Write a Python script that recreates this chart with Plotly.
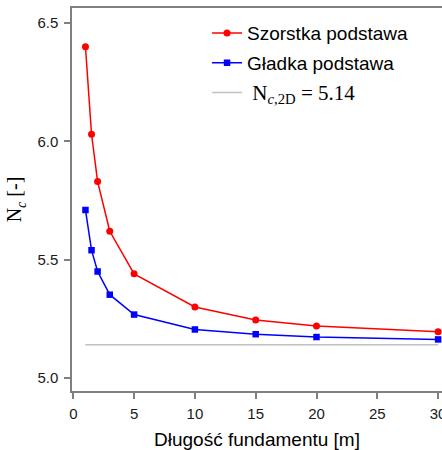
import plotly.graph_objects as go

# Foundation length [m] and bearing capacity factor N_c
length_m = [1, 1.5, 2, 3, 5, 10, 15, 20, 30]
nc_rough = [6.40, 6.03, 5.83, 5.62, 5.44, 5.30, 5.245, 5.22, 5.195]
nc_smooth = [5.71, 5.54, 5.45, 5.352, 5.268, 5.205, 5.185, 5.173, 5.163]
nc_2d = 5.14
ref_x = [1, 30]

fig = go.Figure()
fig.add_trace(go.Scatter(
    x=length_m, y=nc_rough, mode="lines+markers", name="Szorstka podstawa",
    legendgroup="rough",
    line=dict(color="#ff0000", width=1.5),
    marker=dict(symbol="circle", size=7, color="#ff0000"),
))
fig.add_trace(go.Scatter(
    x=length_m, y=nc_smooth, mode="lines+markers", name="Gładka podstawa",
    legendgroup="smooth",
    line=dict(color="#0000ff", width=1.5),
    marker=dict(symbol="square", size=6.5, color="#0000ff"),
))
fig.add_trace(go.Scatter(
    x=ref_x, y=[nc_2d, nc_2d], mode="lines", legendgroup="plane",
    name='<span style="font-family:\'Liberation Serif\', serif;font-size:21px"> N<sub><i>c</i>,2D</sub> = 5.14</span>',
    line=dict(color="#c0c0c0", width=1.5),
))

axis_common = dict(
    showgrid=False, zeroline=False, showline=True, linecolor="#808080", linewidth=1.5,
    ticks="outside", ticklen=6, tickcolor="#808080", tickwidth=1.5,
    ticklabeloverflow="allow", automargin=False,
    tickfont=dict(family="Liberation Sans, Arial", size=15, color="#1a1a1a"),
)

fig.update_layout(
    width=442, height=450,
    margin=dict(l=72, r=0, t=8, b=59, autoexpand=False),
    paper_bgcolor="white", plot_bgcolor="white",
    font=dict(family="Liberation Sans, Arial", size=19, color="#000000"),
    xaxis=dict(
        range=[-0.107, 30.32], tickvals=[0, 5, 10, 15, 20, 25, 30], mirror=True,
        ticklabelstandoff=2,
        title=dict(text="Długość fundamentu [m]", standoff=12,
                   font=dict(family="Liberation Sans, Arial", size=19)),
        **axis_common,
    ),
    yaxis=dict(
        range=[4.945, 6.5636], tickvals=[5.0, 5.5, 6.0, 6.5],
        ticktext=["5.0", "5.5", "6.0", "6.5"],
        ticklabelstandoff=3,
        title=dict(text="N<sub><i>c</i></sub> [-]", standoff=10,
                   font=dict(family="Liberation Serif, serif", size=20)),
        **axis_common,
    ),
    legend=dict(
        x=0.365, y=0.984, xanchor="left", yanchor="top",
        tracegroupgap=2,
        bgcolor="rgba(0,0,0,0)", font=dict(size=19),
    ),
)

fig.write_html("out.html")
